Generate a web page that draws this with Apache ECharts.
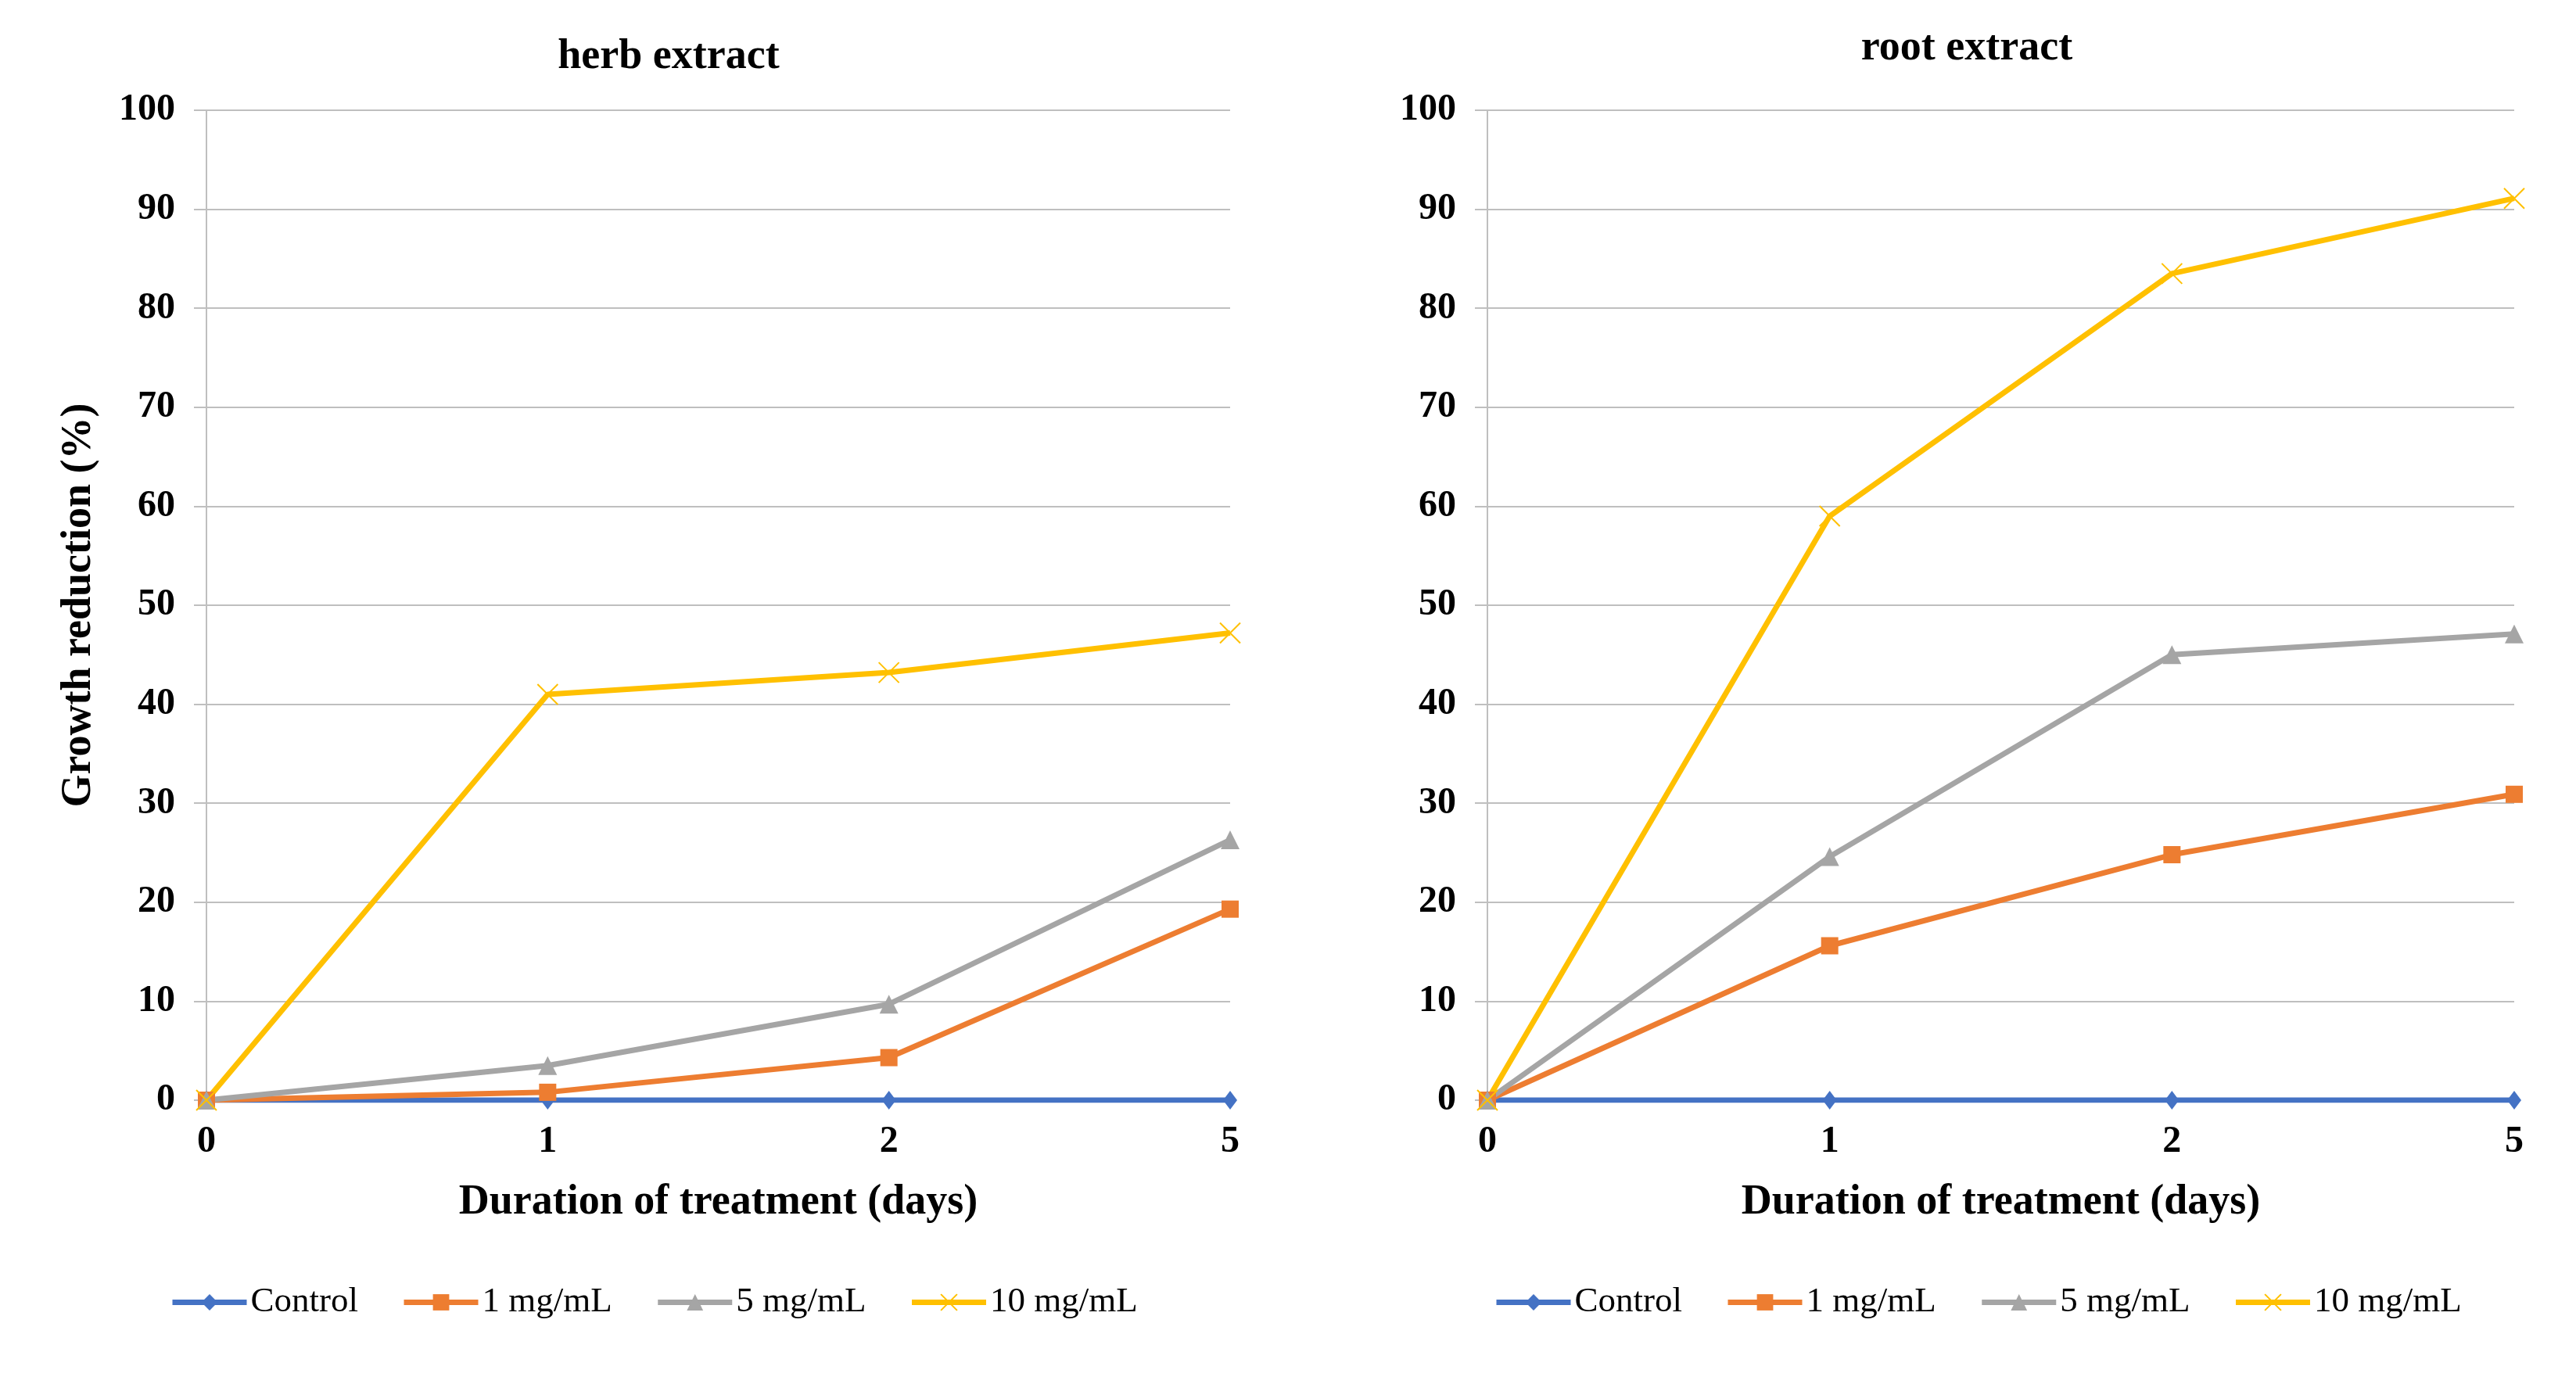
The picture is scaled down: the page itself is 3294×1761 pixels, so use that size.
<!DOCTYPE html>
<html>
<head>
<meta charset="utf-8">
<script src="https://cdn.jsdelivr.net/npm/echarts@6/dist/echarts.min.js"></script>
<style>
html,body{margin:0;padding:0;background:#fff;}
#chart{width:3294px;height:1761px;}
</style>
</head>
<body>
<div id="chart"></div>
<script>
const days = ['0', '1', '2', '5'];
const seriesNames = ['Control', '1 mg/mL', '5 mg/mL', '10 mg/mL'];
const panelTitles = ['herb extract', 'root extract'];
const xAxisTitle = 'Duration of treatment (days)';
const yAxisTitle = 'Growth reduction (%)';
const yMin = 0, yMax = 100, yStep = 10;

const herbControl = [0, 0, 0, 0];
const herb1 = [0, 0.8, 4.3, 19.3];
const herb5 = [0, 3.5, 9.7, 26.3];
const herb10 = [0, 41.0, 43.2, 47.2];

const rootControl = [0, 0, 0, 0];
const root1 = [0, 15.6, 24.8, 30.9];
const root5 = [0, 24.6, 45.0, 47.1];
const root10 = [0, 59.0, 83.5, 91.1];

const colors = ['#4472C4', '#ED7D31', '#A5A5A5', '#FFC000'];
const FONT = '"Liberation Serif", "Times New Roman", serif';
const xPath = 'path://M0,0L20,20M20,0L0,20';

function styleFor(i) {
  const s = [
    { symbol: 'diamond', symbolSize: [18, 24] },
    { symbol: 'rect', symbolSize: 22 },
    { symbol: 'triangle', symbolSize: 24 },
    { symbol: xPath, symbolSize: 26 }
  ][i];
  const itemStyle = i === 3
    ? { color: colors[i], borderColor: colors[i], borderWidth: 2 }
    : { color: colors[i] };
  return Object.assign({
    type: 'line',
    showSymbol: true,
    showAllSymbol: true,
    lineStyle: { color: colors[i], width: 7 },
    itemStyle: itemStyle,
    emphasis: { disabled: true }
  }, s);
}

const panels = [
  [herbControl, herb1, herb5, herb10],
  [rootControl, root1, root5, root10]
];

const grids = [
  { left: 264, right: 1721, top: 141, bottom: 354 },
  { left: 1902, right: 79, top: 141, bottom: 354 }
];

const xAxes = grids.map((g, k) => ({
  type: 'category',
  gridIndex: k,
  data: days,
  boundaryGap: false,
  axisLine: { show: true, lineStyle: { color: '#BFBFBF', width: 2 } },
  axisTick: { show: false },
  axisLabel: { color: '#000', fontFamily: FONT, fontWeight: 'bold', fontSize: 48, margin: 30 },
  name: xAxisTitle,
  nameLocation: 'middle',
  nameGap: 104,
  nameTextStyle: { color: '#000', fontFamily: FONT, fontWeight: 'bold', fontSize: 54 }
}));

const yAxes = grids.map((g, k) => Object.assign({
  type: 'value',
  gridIndex: k,
  min: yMin,
  max: yMax,
  interval: yStep,
  axisLine: { show: true, lineStyle: { color: '#BFBFBF', width: 2 } },
  axisTick: { show: true, length: 16, lineStyle: { color: '#BFBFBF', width: 2 } },
  splitLine: { show: true, lineStyle: { color: '#BFBFBF', width: 2 } },
  axisLabel: { color: '#000', fontFamily: FONT, fontWeight: 'bold', fontSize: 48, margin: 40 }
}, k === 0 ? {
  name: yAxisTitle,
  nameLocation: 'middle',
  nameRotate: 90,
  nameGap: 136,
  nameTextStyle: { color: '#000', fontFamily: FONT, fontWeight: 'bold', fontSize: 54 }
} : {}));

const series = [];
panels.forEach((vals, k) => {
  vals.forEach((arr, i) => {
    series.push(Object.assign(styleFor(i), {
      name: seriesNames[i],
      xAxisIndex: k,
      yAxisIndex: k,
      data: arr
    }));
  });
});

const legendBase = {
  data: seriesNames,
  orient: 'horizontal',
  itemWidth: 95,
  itemHeight: 26,
  itemGap: 55,
  selectedMode: false,
  lineStyle: { width: 7 },
  textStyle: { color: '#000', fontFamily: FONT, fontSize: 45 }
};

const option = {
  backgroundColor: '#fff',
  animation: false,
  title: [
    { text: panelTitles[0], left: 850, top: 68, textAlign: 'center', textVerticalAlign: 'middle',
      textStyle: { color: '#000', fontFamily: FONT, fontWeight: 'bold', fontSize: 54 } },
    { text: panelTitles[1], left: 2510, top: 57, textAlign: 'center', textVerticalAlign: 'middle',
      textStyle: { color: '#000', fontFamily: FONT, fontWeight: 'bold', fontSize: 54 } }
  ],
  grid: grids,
  xAxis: xAxes,
  yAxis: yAxes,
  legend: [
    Object.assign({}, legendBase, { left: 212, top: 1638 }),
    Object.assign({}, legendBase, { left: 1905, top: 1638 })
  ],
  series: series
};

const chart = echarts.init(document.getElementById('chart'), null, { renderer: 'canvas' });
chart.setOption(option);
</script>
</body>
</html>
